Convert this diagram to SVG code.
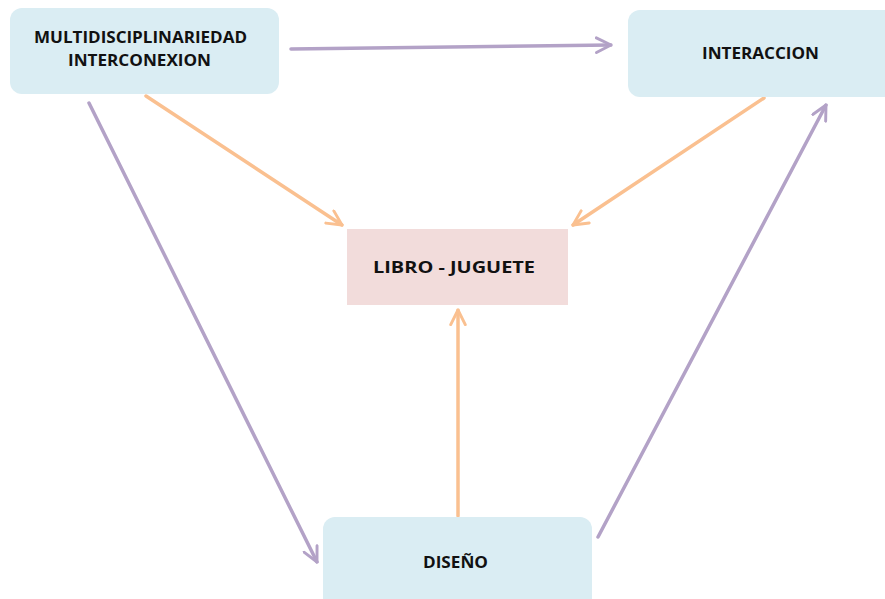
<svg xmlns="http://www.w3.org/2000/svg" width="885" height="599" viewBox="0 0 885 599">
  <style>
    .box { fill: #daedf3; }
    .pink { fill: #f2dcdb; }
    .lbl { font-family: "Open Sans", "Liberation Sans", sans-serif; font-weight: bold; font-size: 16px; fill: #111; text-anchor: middle; }
    .purple { stroke: #b3a2c7; stroke-width: 3.5; fill: none; stroke-linecap: round; }
    .orange { stroke: #fac090; stroke-width: 3.5; fill: none; stroke-linecap: round; }
  </style>
  <defs>
    <marker id="headP" viewBox="0 0 12 12" refX="11" refY="6" markerWidth="5" markerHeight="5" markerUnits="strokeWidth" orient="auto">
      <path d="M1,1 L11,6 L1,11" fill="none" stroke="#b3a2c7" stroke-width="2" stroke-linecap="round" stroke-linejoin="round"/>
    </marker>
    <marker id="headO" viewBox="0 0 12 12" refX="11" refY="6" markerWidth="5" markerHeight="5" markerUnits="strokeWidth" orient="auto">
      <path d="M1,1 L11,6 L1,11" fill="none" stroke="#fac090" stroke-width="2" stroke-linecap="round" stroke-linejoin="round"/>
    </marker>
  </defs>
  <rect width="885" height="599" fill="#ffffff"/>

  <g id="connectors">
    <line class="purple" x1="291" y1="49" x2="611" y2="45" marker-end="url(#headP)"/>
    <line class="orange" x1="146" y1="96" x2="342" y2="225" marker-end="url(#headO)"/>
    <line class="orange" x1="764" y1="98" x2="573" y2="225" marker-end="url(#headO)"/>
    <line class="purple" x1="89" y1="103" x2="317" y2="562" marker-end="url(#headP)"/>
    <line class="orange" x1="458" y1="516" x2="458" y2="310" marker-end="url(#headO)"/>
    <line class="purple" x1="598" y1="537" x2="826" y2="105" marker-end="url(#headP)"/>
  </g>

  <g id="multidisciplinariedad">
    <rect class="box" x="10" y="8" width="269" height="86" rx="12"/>
    <text class="lbl" x="140.5" y="43" textLength="213" lengthAdjust="spacingAndGlyphs">MULTIDISCIPLINARIEDAD</text>
    <text class="lbl" x="139.5" y="66" textLength="143" lengthAdjust="spacingAndGlyphs">INTERCONEXION</text>
  </g>

  <g id="interaccion">
    <rect class="box" x="628" y="10" width="270" height="87" rx="12"/>
    <text class="lbl" x="760.5" y="59" textLength="117" lengthAdjust="spacingAndGlyphs">INTERACCION</text>
  </g>

  <g id="libro-juguete">
    <rect class="pink" x="347" y="229" width="221" height="76"/>
    <text class="lbl" x="454" y="273" textLength="162" lengthAdjust="spacingAndGlyphs">LIBRO - JUGUETE</text>
  </g>

  <g id="diseno">
    <rect class="box" x="323" y="517" width="269" height="95" rx="12"/>
    <text class="lbl" x="455.5" y="568" textLength="65" lengthAdjust="spacingAndGlyphs">DISEÑO</text>
  </g>
</svg>
